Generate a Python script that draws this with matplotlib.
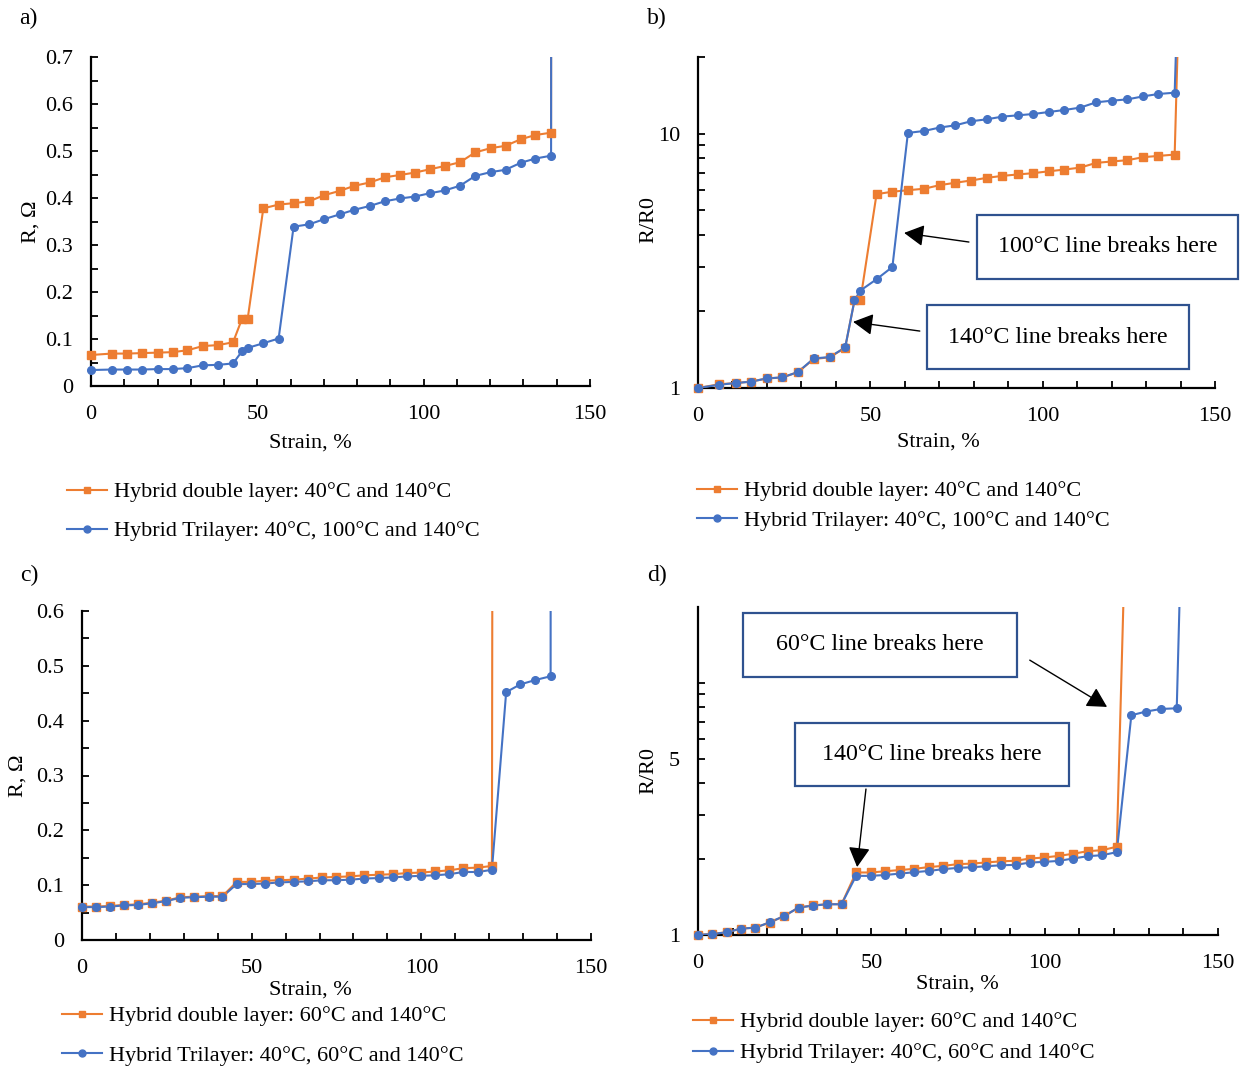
import matplotlib
matplotlib.use("Agg")
import matplotlib.pyplot as plt
from matplotlib.lines import Line2D
from matplotlib.patches import Rectangle

plt.rcParams['font.family'] = ['Liberation Serif', 'DejaVu Serif']

# ---------------- data ----------------
# (a)/(b): 40 °C / 100 °C / 140 °C samples
strain_ab = [0, 6.2, 10.9, 15.4, 20.0, 24.5, 29.0, 33.6, 38.2, 42.7, 45.4, 47.1,
             51.8, 56.4, 60.9, 65.6, 70.1, 74.7, 79.2, 83.8, 88.3, 92.9, 97.3,
             101.8, 106.3, 110.9, 115.5, 120.1, 124.6, 129.2, 133.6, 138.3]
r_double_a = [0.066, 0.069, 0.069, 0.070, 0.071, 0.072, 0.076, 0.085, 0.087, 0.093,
              0.143, 0.143, 0.378, 0.386, 0.389, 0.393, 0.406, 0.415, 0.426, 0.433,
              0.444, 0.449, 0.454, 0.461, 0.468, 0.476, 0.497, 0.506, 0.511, 0.525,
              0.534, 0.539]
r_tri_a = [0.034, 0.035, 0.035, 0.035, 0.036, 0.036, 0.038, 0.044, 0.045, 0.048,
           0.074, 0.081, 0.091, 0.101, 0.339, 0.344, 0.355, 0.365, 0.375, 0.383,
           0.393, 0.399, 0.403, 0.410, 0.416, 0.426, 0.447, 0.455, 0.460, 0.475,
           0.484, 0.490]
rr0_double_b = [1.0, 1.035, 1.045, 1.06, 1.09, 1.10, 1.155, 1.30, 1.32, 1.44, 2.21,
                2.21, 5.78, 5.91, 5.99, 6.07, 6.27, 6.41, 6.54, 6.70, 6.82, 6.91,
                6.99, 7.11, 7.22, 7.35, 7.67, 7.77, 7.86, 8.08, 8.17, 8.27]
rr0_tri_b = [1.0, 1.03, 1.046, 1.059, 1.091, 1.101, 1.155, 1.307, 1.323, 1.443, 2.21,
             2.415, 2.676, 2.99, 10.06, 10.24, 10.56, 10.78, 11.18, 11.38, 11.66,
             11.80, 11.94, 12.16, 12.38, 12.65, 13.27, 13.47, 13.63, 14.01, 14.31,
             14.48]
# open-circuit readings after the sample breaks
break_strain_ab = 142.9
r_break_double_a, r_break_tri_a = 99.0, 51.0
rr0_break_double_b, rr0_break_tri_b = 1500.0, 1500.0

# (c)/(d): 40 °C / 60 °C / 140 °C samples
strain_cd = [0, 4.1, 8.3, 12.4, 16.5, 20.7, 24.9, 29.0, 33.1, 37.3, 41.4, 45.6, 49.8,
             54.0, 58.2, 62.4, 66.6, 70.7, 74.9, 79.1, 83.2, 87.4, 91.6, 95.7, 99.9,
             104.1, 108.2, 112.4, 116.6, 120.8, 125.0, 129.1, 133.5, 138.1]
r_double_c = [0.061, 0.061, 0.062, 0.064, 0.065, 0.068, 0.072, 0.078, 0.079, 0.080,
              0.080, 0.106, 0.106, 0.108, 0.109, 0.110, 0.112, 0.114, 0.115, 0.116,
              0.118, 0.119, 0.120, 0.122, 0.123, 0.125, 0.127, 0.131, 0.132, 0.135]
r_tri_c = [0.060, 0.060, 0.061, 0.063, 0.064, 0.067, 0.071, 0.077, 0.078, 0.079,
           0.079, 0.102, 0.102, 0.103, 0.105, 0.106, 0.107, 0.109, 0.109, 0.110,
           0.112, 0.113, 0.114, 0.116, 0.117, 0.118, 0.120, 0.124, 0.124, 0.128,
           0.452, 0.466, 0.474, 0.481]
rr0_double_d = [1.0, 1.01, 1.025, 1.06, 1.07, 1.12, 1.19, 1.285, 1.31, 1.325, 1.325,
                1.77, 1.77, 1.79, 1.81, 1.83, 1.86, 1.88, 1.91, 1.92, 1.94, 1.96,
                1.97, 2.01, 2.03, 2.06, 2.10, 2.15, 2.17, 2.24]
rr0_tri_d = [1.0, 1.009, 1.025, 1.06, 1.069, 1.123, 1.19, 1.284, 1.308, 1.324, 1.324,
             1.716, 1.716, 1.73, 1.752, 1.774, 1.796, 1.824, 1.846, 1.857, 1.874,
             1.891, 1.897, 1.938, 1.95, 1.968, 2.011, 2.054, 2.073, 2.131, 7.44,
             7.69, 7.88, 7.93]
break_strain_double_cd, break_strain_tri_cd = 125.0, 142.5
r_break_double_c, r_break_tri_c = 18.0, 95.0
rr0_break_double_d, rr0_break_tri_d = 300.0, 1590.0

labels_ab = ["Hybrid double layer: 40°C and 140°C",
             "Hybrid Trilayer: 40°C, 100°C and 140°C"]
labels_cd = ["Hybrid double layer: 60°C and 140°C",
             "Hybrid Trilayer: 40°C, 60°C and 140°C"]
x_ticks = [0, 50, 100, 150]

ORANGE = "#ED7D31"
BLUE = "#4472C4"
BOX = "#2F528F"
FS = 16

W, H = 1244, 1070
fig = plt.figure(figsize=(W / 100, H / 100), dpi=100)


def axes_px(left, right, top, bottom):
    return fig.add_axes([left / W, 1 - bottom / H, (right - left) / W, (bottom - top) / H])


def style(ax):
    for s in ("top", "right"):
        ax.spines[s].set_visible(False)
    for s in ("left", "bottom"):
        ax.spines[s].set_linewidth(1.6)
        ax.spines[s].set_color("black")
    ax.set_xlim(0, 150)
    ax.set_xticks(x_ticks)
    ax.set_xticks(range(0, 151, 10), minor=True)
    ax.tick_params(which="both", direction="in", length=5, width=1.3,
                   labelsize=FS, colors="black")
    ax.tick_params(axis="x", which="both", pad=13.5)
    ax.tick_params(axis="y", which="both", pad=13)


def series(ax, x, y, bx, by, color, marker, ms):
    ax.plot(list(x[:len(y)]) + [bx], list(y) + [by], color=color, lw=1.5, zorder=3)
    ax.plot(x[:len(y)], y, ls="none", marker=marker, ms=ms, color=color,
            clip_on=False, zorder=4)


def legend(x, y, labels, spacing):
    handles = [Line2D([], [], color=ORANGE, lw=1.5, marker="s", ms=5),
               Line2D([], [], color=BLUE, lw=1.5, marker="o", ms=5)]
    fig.legend(handles, labels, loc="center left", bbox_to_anchor=(x / W, 1 - y / H),
               bbox_transform=fig.transFigure, frameon=False, fontsize=FS,
               handlelength=1.8, handletextpad=0.3, labelspacing=spacing,
               borderpad=0, borderaxespad=0)


def note(ax, box, text, tail, tip):
    x0, x1, y0, y1 = box
    ax.add_patch(Rectangle((x0, y0), x1 - x0, y1 - y0, transform=ax.transAxes,
                           fill=True, facecolor="white", edgecolor=BOX, lw=1.6,
                           clip_on=False, zorder=6))
    ax.text((x0 + x1) / 2, (y0 + y1) / 2, text, transform=ax.transAxes,
            ha="center", va="center", fontsize=17.3, zorder=7)
    ax.annotate("", xy=tip, xycoords="data", xytext=tail, textcoords="axes fraction",
                arrowprops=dict(arrowstyle="-|>,head_length=0.55,head_width=0.3",
                                color="black", lw=1.0,
                                mutation_scale=22, shrinkA=0, shrinkB=0), zorder=7)


# ---------------- (a) ----------------
ax = axes_px(91, 590, 57, 386)
style(ax)
series(ax, strain_ab, r_double_a, break_strain_ab, r_break_double_a, ORANGE, "s", 5.5)
series(ax, strain_ab, r_tri_a, break_strain_ab, r_break_tri_a, BLUE, "o", 5.5)
ax.set_ylim(0, 0.7)
ax.set_yticks([0, 0.1, 0.2, 0.3, 0.4, 0.5, 0.6, 0.7],
              ["0", "0.1", "0.2", "0.3", "0.4", "0.5", "0.6", "0.7"])
ax.set_yticks([0.05, 0.15, 0.25, 0.35, 0.45, 0.55, 0.65], minor=True)
ax.set_xlabel("Strain, %", fontsize=FS)
ax.xaxis.set_label_coords(0.439, -0.143)
ax.set_ylabel("R, Ω", fontsize=FS)
ax.yaxis.set_label_coords(-0.102, 0.5)
fig.text(28 / W, 1 - 18 / H, "a)", fontsize=FS + 1, ha="center", va="center")
legend(67, 511.5, labels_ab, 0.83)

# ---------------- (b) ----------------
ax = axes_px(698, 1215, 57, 388)
style(ax)
ax.set_yscale("log")
series(ax, strain_ab, rr0_double_b, break_strain_ab, rr0_break_double_b, ORANGE, "s", 5.5)
series(ax, strain_ab, rr0_tri_b, break_strain_ab, rr0_break_tri_b, BLUE, "o", 5.5)
ax.set_ylim(1, 20)
ax.set_yticks([1, 10], ["1", "10"])
ax.set_yticks([2, 3, 4, 5, 6, 7, 8, 9, 20], minor=True)
ax.yaxis.set_minor_formatter(plt.NullFormatter())
ax.set_xlabel("Strain, %", fontsize=FS)
ax.xaxis.set_label_coords(0.464, -0.136)
ax.set_ylabel("R/R0", fontsize=FS)
ax.yaxis.set_label_coords(-0.077, 0.508)
fig.text(657 / W, 1 - 18 / H, "b)", fontsize=FS + 1, ha="center", va="center")
legend(697, 506, labels_ab, 0.42)
note(ax, (0.540, 1.044, 0.329, 0.523), "100°C line breaks here", (0.524, 0.441), (59.8, 4.07))
note(ax, (0.443, 0.950, 0.057, 0.251), "140°C line breaks here", (0.429, 0.172), (45.0, 1.82))

# ---------------- (c) ----------------
ax = axes_px(82, 591, 611, 940)
style(ax)
series(ax, strain_cd, r_double_c, break_strain_double_cd, r_break_double_c, ORANGE, "s", 5.5)
series(ax, strain_cd, r_tri_c, break_strain_tri_cd, r_break_tri_c, BLUE, "o", 5.5)
ax.set_ylim(0, 0.6)
ax.set_yticks([0, 0.1, 0.2, 0.3, 0.4, 0.5, 0.6],
              ["0", "0.1", "0.2", "0.3", "0.4", "0.5", "0.6"])
ax.set_yticks([0.05, 0.15, 0.25, 0.35, 0.45, 0.55], minor=True)
ax.set_xlabel("Strain, %", fontsize=FS)
ax.xaxis.set_label_coords(0.448, -0.122)
ax.set_ylabel("R, Ω", fontsize=FS)
ax.yaxis.set_label_coords(-0.106, 0.5)
fig.text(29 / W, 1 - 575 / H, "c)", fontsize=FS + 1, ha="center", va="center")
legend(62, 1036, labels_cd, 0.87)

# ---------------- (d) ----------------
ax = axes_px(698, 1218, 607, 935)
style(ax)
ax.set_yscale("log")
series(ax, strain_cd, rr0_double_d, break_strain_double_cd, rr0_break_double_d, ORANGE, "s", 5.5)
series(ax, strain_cd, rr0_tri_d, break_strain_tri_cd, rr0_break_tri_d, BLUE, "o", 5.5)
ax.set_ylim(1, 20)
ax.set_yticks([1, 5], ["1", "5"])
ax.set_yticks([2, 3, 4, 6, 7, 8, 9, 10], minor=True)
ax.yaxis.set_minor_formatter(plt.NullFormatter())
ax.set_xlabel("Strain, %", fontsize=FS)
ax.xaxis.set_label_coords(0.498, -0.122)
ax.set_ylabel("R/R0", fontsize=FS)
ax.yaxis.set_label_coords(-0.077, 0.503)
fig.text(657 / W, 1 - 575 / H, "d)", fontsize=FS + 1, ha="center", va="center")
legend(693, 1037.5, labels_cd, 0.47)
note(ax, (0.087, 0.613, 0.787, 0.982), "60°C line breaks here", (0.638, 0.838), (118.0, 8.03))
note(ax, (0.187, 0.713, 0.454, 0.646), "140°C line breaks here", (0.323, 0.445), (45.9, 1.86))

fig.savefig("out.png", dpi=100, facecolor="white")
